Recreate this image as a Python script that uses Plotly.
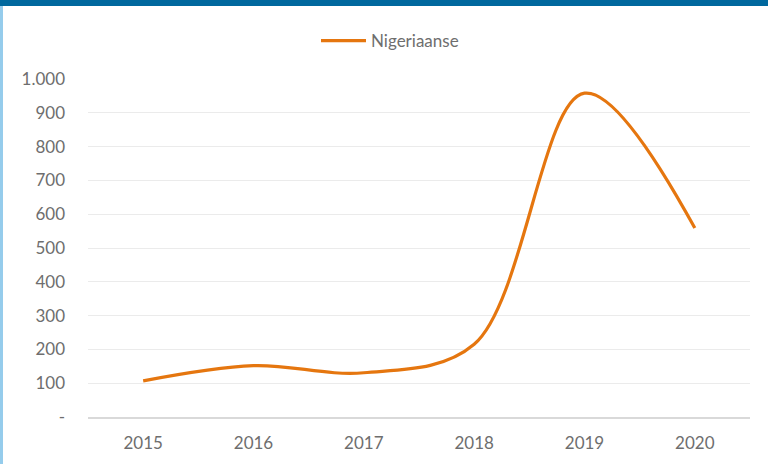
import plotly.graph_objects as go

# Nigerian asylum applications per year
years = ["2015", "2016", "2017", "2018", "2019", "2020"]
nigeriaanse = [107, 152, 131, 215, 958, 559]

y_tick_vals = [0, 100, 200, 300, 400, 500, 600, 700, 800, 900, 1000]
y_tick_text = ["-", "100", "200", "300", "400", "500", "600", "700", "800", "900", "1.000"]

W, H = 768, 464
L, R, T, B = 88, 18, 79, 47
pw, ph = W - L - R, H - T - B


def px_x(p):
    return (p - L) / pw


def px_y(p):
    return (H - B - p) / ph


fig = go.Figure()
fig.add_trace(go.Scatter(
    x=years, y=nigeriaanse, mode="lines", name="Nigeriaanse",
    line=dict(color="#E5760F", width=3.2, shape="spline", smoothing=1.0),
))

grey = "#6E6E6E"
fig.update_layout(
    width=W, height=H,
    margin=dict(l=L, r=R, t=T, b=B, autoexpand=False),
    paper_bgcolor="white", plot_bgcolor="white",
    font=dict(family="Lato, Open Sans, sans-serif", color=grey, size=17),
    showlegend=True,
    legend=dict(orientation="h", x=px_x(316), xanchor="left", y=px_y(23), yanchor="top",
                itemwidth=45, font=dict(size=17, color=grey), bgcolor="rgba(0,0,0,0)"),
    xaxis=dict(type="category", range=[-0.5, 5.5], showgrid=False, automargin=False,
               showline=True, linecolor="#D9D9D9", linewidth=1.5,
               ticks="", ticklabelstandoff=10, tickfont=dict(size=17, color=grey),
               fixedrange=True),
    yaxis=dict(range=[0, 1000], tickvals=y_tick_vals, ticktext=y_tick_text, automargin=False,
               showgrid=True, gridcolor="#EBEBEB", gridwidth=1,
               zeroline=False, showline=False, ticks="",
               ticklabelstandoff=22, tickfont=dict(size=17, color=grey),
               fixedrange=True),
    shapes=[
        # dark header strip along the top edge
        dict(type="rect", xref="paper", yref="paper",
             x0=px_x(0), x1=px_x(W), y0=px_y(6), y1=px_y(0),
             fillcolor="#00689E", line=dict(width=0), layer="above"),
        # light blue frame on the left edge
        dict(type="rect", xref="paper", yref="paper",
             x0=px_x(0), x1=px_x(3), y0=px_y(H), y1=px_y(6),
             fillcolor="#95CCEC", line=dict(width=0), layer="above"),
    ],
)

fig.write_html("out.html")
